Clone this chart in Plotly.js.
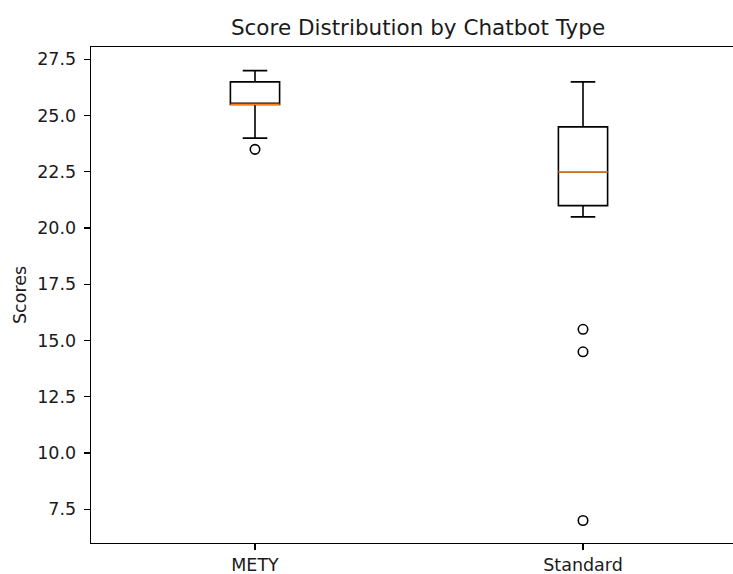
<!DOCTYPE html>
<html>
<head>
<meta charset="utf-8">
<script src="https://cdn.plot.ly/plotly-3.0.1.min.js"></script>
<style>html,body{margin:0;padding:0;background:#fff;}#chart{width:733px;height:574px;}</style>
</head>
<body>
<div id="chart"></div>
<script>
// Data
var categories = ["METY", "Standard"];
var positions = [1, 2];
var lowerWhisker = [24.0, 20.5];
var q1 = [25.5, 21.0];
var medians = [25.5, 22.5];
var q3 = [26.5, 24.5];
var upperWhisker = [27.0, 26.5];
var outliersMETY = [23.5];
var outliersStandard = [15.5, 14.5, 7.0];

var BOXW = 0.15;
var traces = [];

traces.push({
  type: 'box',
  x: positions,
  q1: q1,
  median: medians,
  q3: q3,
  lowerfence: lowerWhisker,
  upperfence: upperWhisker,
  width: BOXW,
  whiskerwidth: 0.5,
  boxpoints: false,
  fillcolor: 'rgba(0,0,0,0)',
  line: {color: '#000000', width: 1.6},
  hoverinfo: 'skip',
  showlegend: false
});

// orange median lines
for (var i = 0; i < positions.length; i++) {
  traces.push({
    type: 'scatter', mode: 'lines',
    x: [positions[i] - BOXW / 2, positions[i] + BOXW / 2],
    y: [medians[i], medians[i]],
    line: {color: '#ff7f0e', width: 1.6},
    hoverinfo: 'skip', showlegend: false
  });
}

var outlierSets = [outliersMETY, outliersStandard];
for (var j = 0; j < outlierSets.length; j++) {
  traces.push({
    type: 'scatter', mode: 'markers',
    x: outlierSets[j].map(function () { return positions[j]; }),
    y: outlierSets[j],
    marker: {symbol: 'circle', size: 9.5, color: 'rgba(0,0,0,0)', line: {color: '#000000', width: 1.6}},
    hoverinfo: 'skip', showlegend: false
  });
}

var W = 733, H = 574, L = 91, T = 47, B = 31;
var pxPerUnit = 328;
var xmax = 0.5 + (W - L) / pxPerUnit;
var TICKFONT = {family: 'DejaVu Sans', size: 17.5, color: '#1a1a1a'};

var layout = {
  width: W, height: H,
  margin: {l: L, r: 0, t: T, b: B},
  paper_bgcolor: '#ffffff',
  plot_bgcolor: '#ffffff',
  font: {family: 'DejaVu Sans', color: '#000000', size: 17.5},
  title: {
    text: 'Score Distribution by Chatbot Type',
    font: {family: 'DejaVu Sans', size: 21.5, color: '#1a1a1a'},
    xref: 'container', x: 418 / W, xanchor: 'center',
    yref: 'container', y: 1 - 27 / H, yanchor: 'middle'
  },
  xaxis: {
    range: [0.5, xmax],
    tickmode: 'array', tickvals: positions, ticktext: categories,
    ticks: 'outside', ticklen: 6, tickwidth: 1.3, tickcolor: '#000',
    showgrid: false, zeroline: false,
    showline: true, linecolor: '#000', linewidth: 1.4, mirror: true,
    tickfont: TICKFONT
  },
  yaxis: {
    range: [6.0, 28.05],
    tickmode: 'array',
    tickvals: [7.5, 10, 12.5, 15, 17.5, 20, 22.5, 25, 27.5],
    ticktext: ['7.5', '10.0', '12.5', '15.0', '17.5', '20.0', '22.5', '25.0', '27.5'],
    ticks: 'outside', ticklen: 6, tickwidth: 1.3, tickcolor: '#000',
    ticklabelstandoff: 4,
    showgrid: false, zeroline: false,
    showline: true, linecolor: '#000', linewidth: 1.4,
    tickfont: TICKFONT
  },
  annotations: [{
    text: 'Scores', textangle: -90,
    xref: 'paper', x: (20 - L) / (W - L), xanchor: 'center',
    yref: 'paper', y: 0.5, yanchor: 'middle',
    showarrow: false,
    font: TICKFONT
  }]
};

Plotly.newPlot('chart', traces, layout, {displayModeBar: false, staticPlot: true});
</script>
</body>
</html>
